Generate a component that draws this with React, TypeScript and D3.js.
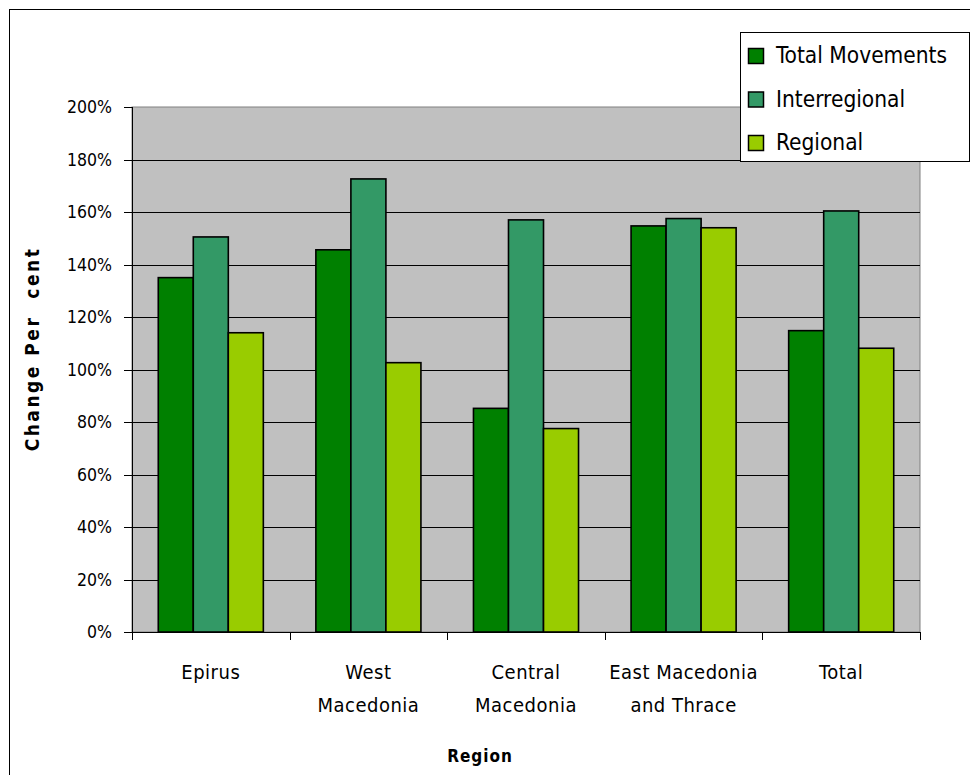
import React from "react";
import * as d3 from "d3";

const categories: string[][] = [
  ["Epirus"],
  ["West", "Macedonia"],
  ["Central", "Macedonia"],
  ["East Macedonia", "and Thrace"],
  ["Total"],
];
const seriesNames = ["Total Movements", "Interregional", "Regional"];
const totalMovements = [1.35, 1.456, 0.852, 1.547, 1.148];
const interregional = [1.505, 1.726, 1.57, 1.575, 1.604];
const regional = [1.14, 1.026, 0.775, 1.54, 1.081];
const seriesColors = ["#008000", "#339966", "#99cc00"];
const yTicks = [0, 0.2, 0.4, 0.6, 0.8, 1.0, 1.2, 1.4, 1.6, 1.8, 2.0];

const FONT = "'DejaVu Sans Condensed', 'DejaVu Sans', sans-serif";

export default function App() {
  const W = 970;
  const H = 775;
  const left = 132;
  const right = 920;
  const top = 107;
  const bottom = 632;

  const keys = categories.map((c) => c.join(" "));
  const x0 = d3.scaleBand<string>().domain(keys).range([left, right]).padding(0);
  const x1 = d3
    .scaleBand<string>()
    .domain(seriesNames)
    .range([0, x0.bandwidth()])
    .paddingInner(0)
    .paddingOuter(0.75);
  const y = d3.scaleLinear().domain([0, 2]).range([bottom, top]);
  const data = [totalMovements, interregional, regional];
  const fmt = d3.format(".0%");

  return (
    <svg
      width={W}
      height={H}
      style={{ position: "absolute", left: 0, top: 0, display: "block" }}
      fontFamily={FONT}
    >
      <rect x={0} y={0} width={W} height={H} fill="#ffffff" />
      <rect x={9.5} y={9.5} width={980} height={790} fill="#ffffff" stroke="#000" strokeWidth={1} />

      {/* plot area */}
      <rect x={left} y={top} width={right - left} height={bottom - top} fill="#c0c0c0" stroke="#808080" strokeWidth={1} />

      {/* gridlines */}
      {yTicks.filter((t) => t > 0 && t < 2).map((t) => (
        <line key={"g" + t} x1={left} x2={right} y1={Math.round(y(t)) + 0.5} y2={Math.round(y(t)) + 0.5} stroke="#000" strokeWidth={1} />
      ))}

      {/* bars */}
      {keys.map((k, i) => (
        <g key={k}>
          {seriesNames.map((s, j) => {
            const bx = (x0(k) as number) + (x1(s) as number);
            const by = y(data[j][i]);
            return (
              <rect
                key={s}
                x={bx}
                y={by}
                width={x1.bandwidth()}
                height={bottom - by}
                fill={seriesColors[j]}
                stroke="#000"
                strokeWidth={1.6}
              />
            );
          })}
        </g>
      ))}

      {/* y axis */}
      <line x1={left + 0.5} x2={left + 0.5} y1={top} y2={bottom} stroke="#000" strokeWidth={1} />
      {yTicks.map((t) => (
        <g key={"t" + t}>
          <line x1={left - 8} x2={left} y1={Math.round(y(t)) + 0.5} y2={Math.round(y(t)) + 0.5} stroke="#000" strokeWidth={1} />
          <text x={112} y={y(t) + 6} textAnchor="end" fontSize={17.5} fill="#000">
            {fmt(t)}
          </text>
        </g>
      ))}

      {/* x axis */}
      <line x1={left - 8} x2={right} y1={bottom + 0.5} y2={bottom + 0.5} stroke="#000" strokeWidth={1} />
      {[...keys.map((k) => x0(k) as number), right].map((xv, i) => (
        <line key={"xt" + i} x1={Math.round(xv) + 0.5} x2={Math.round(xv) + 0.5} y1={bottom} y2={bottom + 8} stroke="#000" strokeWidth={1} />
      ))}
      {categories.map((lines, i) => {
        const cx = (x0(keys[i]) as number) + x0.bandwidth() / 2;
        return (
          <text key={"c" + i} x={cx} textAnchor="middle" fontSize={20} fill="#000" letterSpacing={0.5}>
            {lines.map((ln, li) => (
              <tspan key={li} x={cx} y={679 + li * 33}>
                {ln}
              </tspan>
            ))}
          </text>
        );
      })}

      {/* axis titles */}
      <text x={480} y={762} textAnchor="middle" fontSize={17} fontWeight="bold" fill="#000" letterSpacing={1}>
        Region
      </text>
      <text
        transform={`translate(39, 349) rotate(-90)`}
        textAnchor="middle"
        fontSize={19}
        fontWeight="bold"
        fill="#000"
        letterSpacing={2.5}
        style={{ whiteSpace: "pre" }}
      >
        {"Change Per  cent"}
      </text>

      {/* legend */}
      <rect x={740.5} y={32.5} width={229} height={129} fill="#ffffff" stroke="#000" strokeWidth={1} />
      {seriesNames.map((s, j) => (
        <g key={"l" + s} transform={`translate(748, ${48 + j * 43.5})`}>
          <rect x={0.5} y={0.5} width={15} height={15} fill={seriesColors[j]} stroke="#000" strokeWidth={1.5} />
          <text x={28} y={15} fontSize={22.5} fill="#000">
            {s}
          </text>
        </g>
      ))}
    </svg>
  );
}
